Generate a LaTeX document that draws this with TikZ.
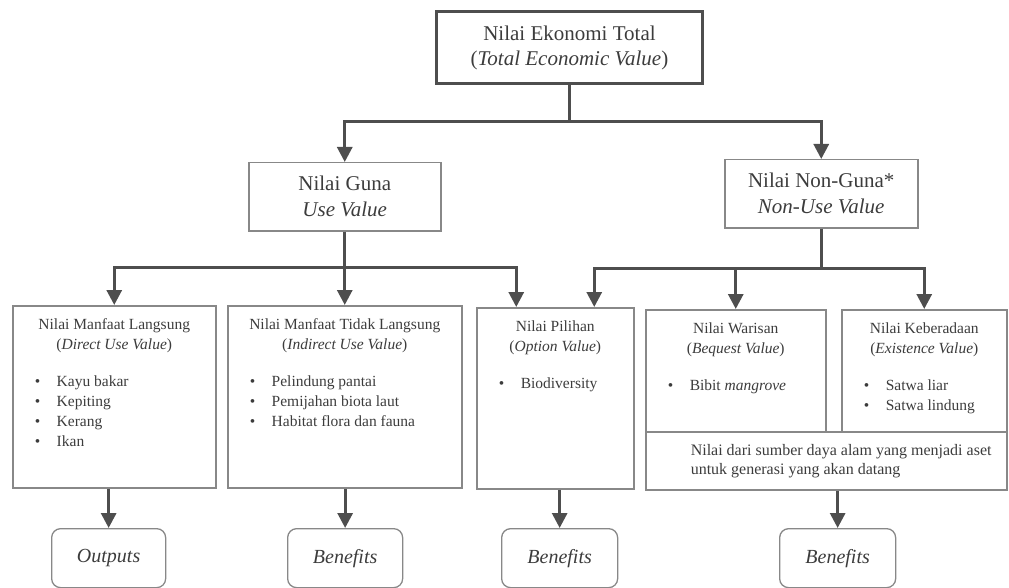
\documentclass[tikz,border=0pt]{standalone}
\usepackage{fontspec}
\setmainfont{Liberation Serif}
\usetikzlibrary{arrows.meta, positioning}

\definecolor{linegray}{HTML}{4E4E4E}
\definecolor{boxgray}{HTML}{888888}
\definecolor{textgray}{HTML}{3C3C3C}

% content of the value boxes
\newcommand{\valbody}[3]{\parbox[t][#2][t]{#1}{#3}}
\newcommand{\valtitle}[2]{\vspace*{13pt}{\centering #1\\(\textit{#2})\par}\vspace{17pt}}
\newcommand{\valitem}[1]{\hspace*{22pt}\makebox[22pt][l]{\textbullet}#1\par}

\tikzset{
    topbox/.style={draw=linegray, line width=3pt, anchor=north west, align=center,
        text=textgray, font=\fontsize{21}{25}\selectfont,
        minimum width=266pt, minimum height=72pt},
    midbox/.style={draw=boxgray, line width=1.5pt, anchor=north west, align=center,
        text=textgray, font=\fontsize{21}{26}\selectfont,
        minimum width=192pt, minimum height=68pt},
    valbox/.style={draw=boxgray, line width=1.5pt, anchor=north west, inner sep=0pt,
        text=textgray, font=\fontsize{15.5}{20}\selectfont},
    endbox/.style={draw=boxgray, line width=1.3pt, rounded corners=9pt, anchor=north west,
        text=textgray, font=\fontsize{20}{24}\selectfont\itshape,
        minimum width=115pt, minimum height=59pt},
    link/.style={draw=linegray, line width=3pt},
    arrowlink/.style={link, -{Triangle[width=15pt, length=15pt]}},
}

\begin{document}
\begin{tikzpicture}[x=1pt, y=-1pt]

\useasboundingbox (0,0) rectangle (1009,588);

% total value
\node[topbox] (total) at (435,10) {Nilai Ekonomi Total\\(\textit{Total Economic Value})};

% use and non-use
\node[midbox] (use) at (248,162) {Nilai Guna\\\textit{Use Value}};
\node[midbox, minimum width=193pt] (nonuse) at (724,159) {Nilai Non-Guna*\\\textit{Non-Use Value}};

% value types
\node[valbox] (direct) at (12,305) {\valbody{203pt}{182pt}{%
    \valtitle{Nilai Manfaat Langsung}{Direct Use Value}%
    \valitem{Kayu bakar}\valitem{Kepiting}\valitem{Kerang}\valitem{Ikan}}};
\node[valbox] (indirect) at (227,305) {\valbody{234pt}{182pt}{%
    \valtitle{Nilai Manfaat Tidak Langsung}{Indirect Use Value}%
    \valitem{Pelindung pantai}\valitem{Pemijahan biota laut}\valitem{Habitat flora dan fauna}}};
\node[valbox] (option) at (476,307) {\valbody{157pt}{181pt}{%
    \valtitle{Nilai Pilihan}{Option Value}%
    \valitem{Biodiversity}}};
\node[valbox] (bequest) at (645,309) {\valbody{180pt}{122pt}{%
    \valtitle{Nilai Warisan}{Bequest Value}%
    \valitem{Bibit \textit{mangrove}}}};
\node[valbox] (existence) at (841,309) {\valbody{165pt}{122pt}{%
    \valtitle{Nilai Keberadaan}{Existence Value}%
    \valitem{Satwa liar}\valitem{Satwa lindung}}};
\node[valbox, minimum height=58pt, font=\fontsize{16}{19}\selectfont] (asset) at (645,431)
    {\parbox{361pt}{\raggedright\leftskip=45pt Nilai dari sumber daya alam yang menjadi aset\\untuk generasi yang akan datang}};

% outputs and benefits
\node[endbox, minimum width=114pt] (outputs) at (51,528) {Outputs};
\node[endbox] (benefit-use) at (287,528) {Benefits};
\node[endbox, minimum width=116pt] (benefit-option) at (501,528) {Benefits};
\node[endbox, minimum width=116pt] (benefit-nonuse) at (779,528) {Benefits};

% total value into use and non-use
\draw[link] (total.south) -- (total.south |- 0,122) coordinate (total-split);
\foreach \t in {use, nonuse} {
    \draw[arrowlink] (total-split) -| (\t.north);
}

% use value into its types
\draw[link] (use.south) -- (use.south |- 0,267) coordinate (use-split);
\draw[arrowlink] (use-split) -| (direct.north);
\draw[arrowlink] (use-split) -- (indirect.north);
\draw[arrowlink] (use-split) -| ([xshift=-39pt]option.north);

% non-use value into its types
\draw[link] (nonuse.south) -- (nonuse.south |- 0,268) coordinate (nonuse-split);
\draw[arrowlink] (nonuse-split) -| ([xshift=39pt]option.north);
\foreach \t in {bequest, existence} {
    \draw[arrowlink] (nonuse-split) -| (\t.north);
}

% value types into outputs and benefits
\foreach \s/\d in {direct/outputs, indirect/benefit-use, option/benefit-option, asset/benefit-nonuse} {
    \draw[arrowlink] (\d.north |- \s.south) -- (\d.north);
}

\end{tikzpicture}
\end{document}
